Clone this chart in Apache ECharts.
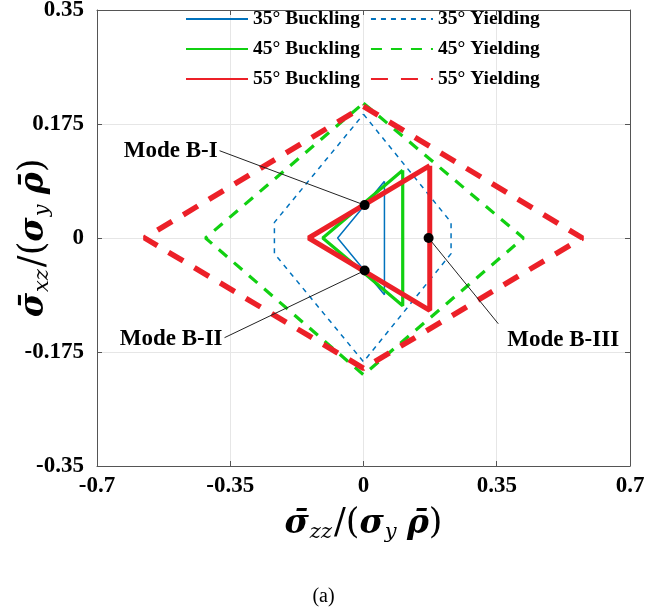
<!DOCTYPE html>
<html><head><meta charset="utf-8">
<script src="https://cdn.jsdelivr.net/npm/echarts@6/dist/echarts.min.js"></script>
<style>html,body{margin:0;padding:0;background:#fff}#c{width:647px;height:613px}</style>
</head><body><div id="c"></div><script>
// ---- data ----
var xTickVals = [-0.7, -0.35, 0, 0.35, 0.7];
var xTickLabels = ['-0.7', '-0.35', '0', '0.35', '0.7'];
var yTickVals = [-0.35, -0.175, 0, 0.175, 0.35];
var yTickLabels = ['-0.35', '-0.175', '0', '0.175', '0.35'];

var seriesNames = ['35° Buckling', '35° Yielding', '45° Buckling', '45° Yielding', '55° Buckling', '55° Yielding'];
var buck35 = [[0.055, 0.087], [-0.068, 0], [0.055, -0.087], [0.055, 0.087]];
var yield35 = [[0, 0.19], [0.23, 0.024], [0.23, -0.024], [0, -0.19], [-0.234, -0.024], [-0.234, 0.024], [0, 0.19]];
var buck45 = [[0.103, 0.104], [-0.107, 0], [0.103, -0.104], [0.103, 0.104]];
var yield45 = [[0, 0.207], [0.42, 0], [0, -0.21], [-0.415, 0], [0, 0.207]];
var buck55 = [[0.174, 0.111], [-0.144, 0], [0.174, -0.111], [0.174, 0.111]];
var yield55 = [[0, 0.202], [0.575, 0], [0, -0.2], [-0.575, 0], [0, 0.202]];

var modeNames = ['Mode B-I', 'Mode B-II', 'Mode B-III'];
var modePoints = [[0.003, 0.0505], [0.003, -0.05], [0.171, 0]];
var modeLabelAnchors = [[-0.378, 0.134], [-0.365, -0.153], [0.354, -0.1316]];

// ---- chart ----
var chart = echarts.init(document.getElementById('c'), null, {renderer: 'canvas'});
var serif = "'Liberation Serif', 'Times New Roman', serif";
var mathFont = "'DejaVu Serif', serif";
function fmt(vals, labels) {
  return function (v) {
    for (var i = 0; i < vals.length; i++) if (Math.abs(v - vals[i]) < 1e-6) return labels[i];
    return '';
  };
}
var blue = '#0072BD', green = '#11D011', red = '#EC2028';
function lineSeries(name, data, color, width, type) {
  return {
    name: name, type: 'line', data: data, symbol: 'none', animation: false,
    lineStyle: {color: color, width: width, type: type}, itemStyle: {color: color}
  };
}
var series = [
  lineSeries(seriesNames[0], buck35, blue, 1.5, 'solid'),
  lineSeries(seriesNames[1], yield35, blue, 1.5, [5, 5]),
  lineSeries(seriesNames[2], buck45, green, 3.2, 'solid'),
  lineSeries(seriesNames[3], yield45, green, 3.2, [11, 9]),
  lineSeries(seriesNames[4], buck55, red, 5, 'solid'),
  lineSeries(seriesNames[5], yield55, red, 5.5, [17, 13])
];
for (var i = 0; i < modeNames.length; i++) {
  series.push({
    name: 'ann' + i, type: 'line', symbol: 'none', animation: false, z: 5,
    lineStyle: {color: '#222', width: 1},
    data: [modeLabelAnchors[i], modePoints[i]]
  });
}
var labelCfg = [
  {position: 'left', distance: 2, offset: [0, 0]},
  {position: 'left', distance: 2, offset: [0, 1]},
  {position: 'right', distance: 9, offset: [0, 16]}
];
var labelData = [];
for (var j = 0; j < modeNames.length; j++) {
  labelData.push({
    value: modeLabelAnchors[j],
    label: {show: true, formatter: modeNames[j], position: labelCfg[j].position, distance: labelCfg[j].distance, offset: labelCfg[j].offset,
      color: '#000', opacity: 1, fontFamily: serif, fontWeight: 'bold', fontSize: 23}
  });
}
series.push({
  name: 'modeLabels', type: 'scatter', data: labelData, symbolSize: 0, z: 12, animation: false,
  itemStyle: {color: '#000', opacity: 1}, silent: true,
  emphasis: {disabled: true},
  label: {fontFamily: serif, fontWeight: 'bold', fontSize: 23, color: '#000'}
});
series.push({
  name: 'modes', type: 'scatter', data: modePoints, symbolSize: 10, z: 10, animation: false,
  itemStyle: {color: '#000', opacity: 1}
});

var axisLineStyle = {onZero: false, lineStyle: {color: '#555', width: 1}};
var richMath = {
  s: {fontFamily: mathFont, fontWeight: 'bold', fontStyle: 'italic', fontSize: 33, color: '#000'},
  n: {fontFamily: mathFont, fontSize: 35, color: '#000'},
  g: {fontFamily: mathFont, fontSize: 26, color: '#000'},
  sub: {fontFamily: mathFont, fontStyle: 'italic', fontSize: 21, color: '#000', padding: [17, 2, 0, 1]}
};
var option = {
  backgroundColor: '#fff',
  animation: false,
  title: {text: '(a)', left: 'center', top: 582, textStyle: {fontFamily: serif, fontWeight: 'normal', fontSize: 20, color: '#000'}},
  legend: {
    data: seriesNames, left: 185, top: 9, width: 390, itemWidth: 62, itemHeight: 14, itemGap: 10,
    textStyle: {fontFamily: serif, fontWeight: 'bold', fontSize: 19.5, color: '#000'},
    itemStyle: {opacity: 0, borderWidth: 0},
    padding: 0
  },
  grid: {left: 97, right: 17, top: 10, bottom: 147, containLabel: false, outerBoundsMode: 'none'},
  xAxis: [{
    type: 'value', min: -0.7, max: 0.7, interval: 0.35, position: 'bottom',
    axisLine: axisLineStyle, axisTick: {inside: true, length: 5, lineStyle: {color: '#555'}},
    axisLabel: {formatter: fmt(xTickVals, xTickLabels), fontFamily: serif, fontWeight: 'bold', fontSize: 23, color: '#000', margin: 9},
    splitLine: {show: true, lineStyle: {color: '#e6e6e6', width: 1}},
    name: '{s|σ\u0304}{sub|zz}{n|/(}{s|σ}{sub|y}{g| }{s|ρ\u0304}{n|)}',
    nameLocation: 'middle', nameGap: 39, nameMoveOverlap: false,
    nameTextStyle: {rich: richMath}
  }, {
    type: 'value', min: -0.7, max: 0.7, interval: 0.35, position: 'top',
    axisLine: axisLineStyle, axisTick: {inside: true, length: 5, lineStyle: {color: '#555'}},
    axisLabel: {show: false}, splitLine: {show: false}
  }],
  yAxis: [{
    type: 'value', min: -0.35, max: 0.35, interval: 0.175, position: 'left',
    axisLine: axisLineStyle, axisTick: {inside: true, length: 5, lineStyle: {color: '#555'}},
    axisLabel: {formatter: fmt(yTickVals, yTickLabels), fontFamily: serif, fontWeight: 'bold', fontSize: 23, color: '#000', margin: 13},
    splitLine: {show: true, lineStyle: {color: '#e6e6e6', width: 1}},
    name: '{s|σ\u0304}{sub|xz}{n|/(}{s|σ}{sub|y}{g| }{s|ρ\u0304}{n|)}',
    nameLocation: 'middle', nameGap: 44, nameRotate: 90, nameMoveOverlap: false,
    nameTextStyle: {rich: richMath}
  }, {
    type: 'value', min: -0.35, max: 0.35, interval: 0.175, position: 'right',
    axisLine: axisLineStyle, axisTick: {inside: true, length: 5, lineStyle: {color: '#555'}},
    axisLabel: {show: false}, splitLine: {show: false}
  }],
  series: series
};
chart.setOption(option);
</script></body></html>
